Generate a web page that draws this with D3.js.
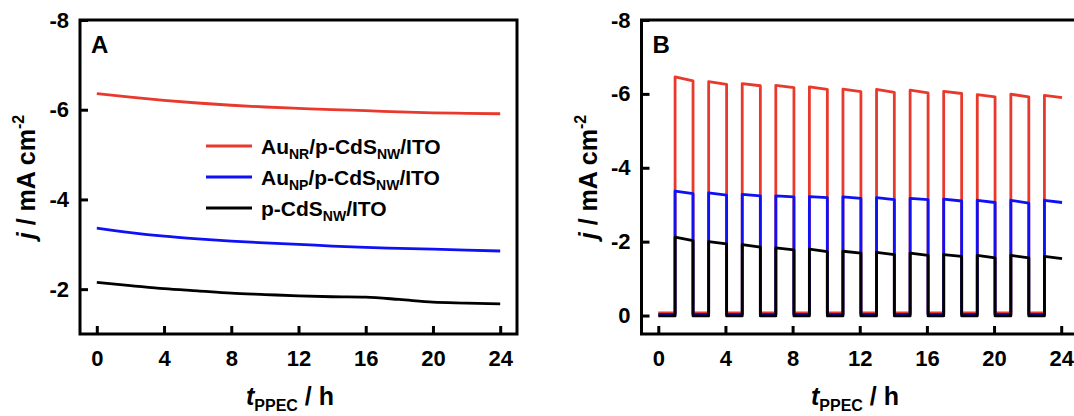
<!DOCTYPE html>
<html lang="en">
<head>
  <meta charset="UTF-8">
  <title>PPEC stability</title>
  <script src="https://d3js.org/d3.v7.min.js"></script>
  <style>
    body { margin: 0; background: #fff; }
    svg text { font-family: "Liberation Sans", Arial, sans-serif; font-weight: bold; fill: #000; }
  </style>
</head>
<body>
  <div id="chart"></div>
  <script>
    // panel A: continuous current vs time
    const timeA = [0, 2, 4, 6, 8, 10, 12, 14, 16, 18, 20, 22, 24];
    const redA = [-6.36, -6.28, -6.21, -6.15, -6.10, -6.06, -6.03, -6.00, -5.98, -5.95, -5.93, -5.92, -5.91];
    const blueA = [-3.36, -3.26, -3.18, -3.12, -3.07, -3.03, -3.00, -2.96, -2.93, -2.91, -2.89, -2.87, -2.85];
    const blackA = [-2.15, -2.08, -2.01, -1.96, -1.91, -1.88, -1.85, -1.83, -1.82, -1.77, -1.71, -1.69, -1.67];

    // panel B: light on/off pulses
    const onTimes = [1, 3, 5, 7, 9, 11, 13, 15, 17, 19, 21, 23];
    const offTimes = [2.07, 4.07, 6.08, 8.08, 10.07, 12.07, 14.06, 16.07, 18.07, 20.06, 22.07, 24.05];
    const redStart = [-6.46, -6.33, -6.28, -6.23, -6.19, -6.13, -6.12, -6.10, -6.07, -5.98, -5.99, -5.96];
    const redEnd = [-6.35, -6.26, -6.22, -6.17, -6.12, -6.06, -6.04, -6.03, -6.01, -5.92, -5.92, -5.90];
    const blueStart = [-3.37, -3.32, -3.28, -3.24, -3.22, -3.21, -3.19, -3.17, -3.15, -3.12, -3.12, -3.12];
    const blueEnd = [-3.30, -3.26, -3.24, -3.21, -3.19, -3.17, -3.14, -3.14, -3.10, -3.06, -3.04, -3.06];
    const blackStart = [-2.12, -2.00, -1.92, -1.83, -1.80, -1.74, -1.71, -1.69, -1.65, -1.63, -1.63, -1.60];
    const blackEnd = [-2.03, -1.94, -1.85, -1.78, -1.73, -1.69, -1.65, -1.63, -1.60, -1.56, -1.56, -1.54];
    const darkLevel = { red: -0.07, blue: -0.03, black: 0.01 };

    const xTicks = [0, 4, 8, 12, 16, 20, 24];
    const yTicksA = [-8, -6, -4, -2];
    const yTicksB = [-8, -6, -4, -2, 0];

    const colors = { red: "#e8392c", blue: "#1010f5", black: "#000000" };

    const svg = d3.select("#chart").append("svg")
      .attr("width", 1074)
      .attr("height", 416);

    function drawPanel(opt) {
      const x = d3.scaleLinear().domain([-1, 25]).range([opt.left, opt.right]);
      const y = d3.scaleLinear().domain(opt.yDomain).range([334, 20]);
      const g = svg.append("g");

      g.append("g")
        .attr("transform", "translate(0,334)")
        .call(d3.axisBottom(x).tickValues(xTicks).tickSizeInner(-8).tickSizeOuter(0).tickPadding(16).tickFormat(d => String(d)))
        .call(a => a.select(".domain").remove())
        .call(a => a.selectAll("line").attr("stroke", "#000").attr("stroke-width", 3))
        .call(a => a.selectAll("text").attr("font-size", 22).attr("fill", "#000"));

      g.append("g")
        .attr("transform", `translate(${opt.left},0)`)
        .call(d3.axisLeft(y).tickValues(opt.yTicks).tickSizeInner(-8).tickSizeOuter(0).tickPadding(11).tickFormat(d => String(d)))
        .call(a => a.select(".domain").remove())
        .call(a => a.selectAll("line").attr("stroke", "#000").attr("stroke-width", 3))
        .call(a => a.selectAll("text").attr("font-size", 22).attr("fill", "#000"));

      // frame
      g.append("rect")
        .attr("x", opt.left).attr("y", 20)
        .attr("width", opt.right - opt.left).attr("height", 314)
        .attr("fill", "none").attr("stroke", "#000").attr("stroke-width", 3);

      g.append("text")
        .attr("x", opt.left + 11).attr("y", 53)
        .attr("font-size", 24)
        .text(opt.tag);

      // x title
      const xt = g.append("text")
        .attr("x", opt.xTitleX).attr("y", 405)
        .attr("text-anchor", "middle")
        .attr("font-size", 25);
      xt.append("tspan").attr("font-style", "italic").text("t");
      xt.append("tspan").attr("font-size", 16).attr("dy", 6).text("PPEC");
      xt.append("tspan").attr("dy", -6).text(" / h");

      // y title
      const yt = g.append("text")
        .attr("transform", `translate(${opt.left - 45},${177}) rotate(-90)`)
        .attr("text-anchor", "middle")
        .attr("font-size", 25);
      yt.append("tspan").attr("font-style", "italic").text("j");
      yt.append("tspan").text(" / mA cm");
      yt.append("tspan").attr("font-size", 16).attr("dy", -11).text("-2");

      return { g, x, y };
    }

    // ---- panel A ----
    const A = drawPanel({ left: 80, right: 517, yDomain: [-1, -8], yTicks: yTicksA, tag: "A", xTitleX: 290 });
    const lineA = d3.line().x(d => A.x(d[0])).y(d => A.y(d[1])).curve(d3.curveMonotoneX);
    [["red", redA], ["blue", blueA], ["black", blackA]].forEach(([k, vals]) => {
      A.g.append("path")
        .datum(timeA.map((t, i) => [t, vals[i]]))
        .attr("d", lineA)
        .attr("fill", "none")
        .attr("stroke", colors[k])
        .attr("stroke-width", 2.8);
    });

    // legend
    const legend = [
      { k: "red", parts: [["Au"], ["NR", 1], ["/p-CdS"], ["NW", 1], ["/ITO"]] },
      { k: "blue", parts: [["Au"], ["NP", 1], ["/p-CdS"], ["NW", 1], ["/ITO"]] },
      { k: "black", parts: [["p-CdS"], ["NW", 1], ["/ITO"]] }
    ];
    legend.forEach((item, i) => {
      const ly = 146 + i * 31;
      A.g.append("line")
        .attr("x1", 206).attr("x2", 252)
        .attr("y1", ly).attr("y2", ly)
        .attr("stroke", colors[item.k]).attr("stroke-width", 3);
      const t = A.g.append("text")
        .attr("x", 261).attr("y", ly + 7.5)
        .attr("font-size", 21);
      let shifted = false;
      item.parts.forEach(([s, sub]) => {
        const ts = t.append("tspan").text(s);
        if (sub && !shifted) { ts.attr("font-size", 14).attr("dy", 5); shifted = true; }
        else if (!sub && shifted) { ts.attr("dy", -5); shifted = false; }
      });
    });

    // ---- panel B ----
    const B = drawPanel({ left: 641.5, right: 1078, yDomain: [0.5, -8], yTicks: yTicksB, tag: "B", xTitleX: 855 });
    const lineB = d3.line().x(d => B.x(d[0])).y(d => B.y(d[1]));
    [["red", redStart, redEnd], ["blue", blueStart, blueEnd], ["black", blackStart, blackEnd]].forEach(([k, st, en]) => {
      const dark = darkLevel[k];
      const pts = [[0, dark]];
      onTimes.forEach((t, i) => {
        pts.push([t, dark], [t, st[i]], [offTimes[i], en[i]]);
        if (i < onTimes.length - 1) pts.push([offTimes[i], dark]);
      });
      B.g.append("path")
        .datum(pts)
        .attr("d", lineB)
        .attr("fill", "none")
        .attr("stroke", colors[k])
        .attr("stroke-width", 2.8)
        .attr("stroke-linejoin", "round");
    });
  </script>
</body>
</html>
